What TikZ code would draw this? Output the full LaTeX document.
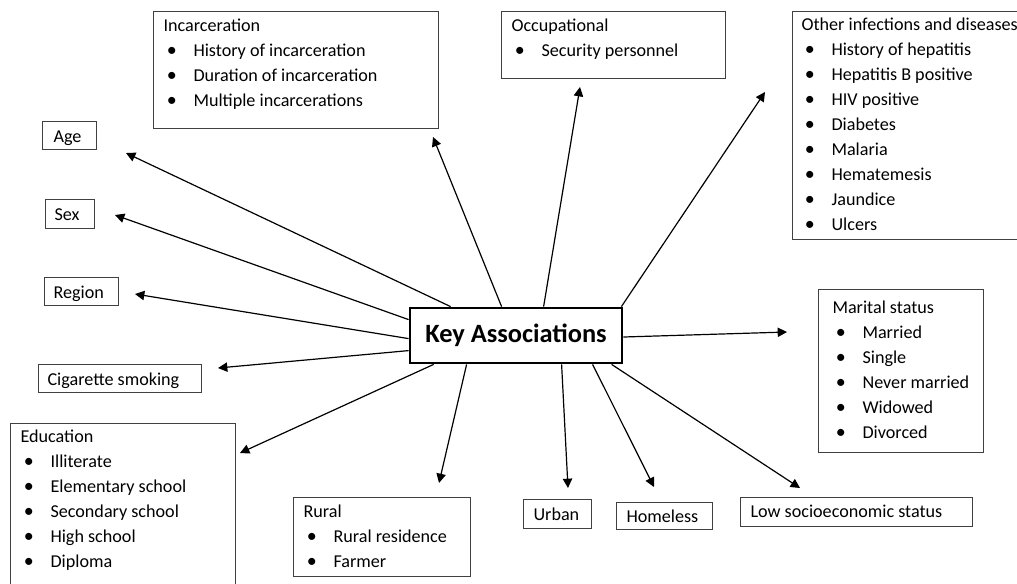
\documentclass[tikz,border=0pt]{standalone}
\usepackage{fontspec}
\setmainfont{Carlito}
\usetikzlibrary{arrows.meta,calc}
\newcommand\cont[5]{\parbox[t][#2][t]{#1}{\fontsize{13.6pt}{18.75pt}\selectfont\raggedright\leftskip=#3\relax\rule{0pt}{#4}#5}}
\newcommand\bi[1]{\\\hspace*{2.5pt}\makebox[20pt][l]{\scalebox{1.1}{\textbullet}}#1}
\tikzset{
  box/.style={draw=black!75, line width=0.8pt, inner sep=0pt, anchor=north west, fill=white},
  keybox/.style={draw=black, line width=2.1pt, minimum width=159pt, minimum height=41.25pt, inner sep=0pt, font=\fontsize{19.8pt}{22pt}\selectfont\bfseries},
  arr/.style={-{Triangle[length=7pt,width=7pt]}, line width=0.9pt}
}
\begin{document}
\begin{tikzpicture}[x=0.75pt,y=-0.75pt]
\useasboundingbox[fill=white] (0,0) rectangle (1017,583);
% boxes
\node[box] (inc) at (153,11) {\cont{213.75pt}{87.75pt}{7.5pt}{15pt}{Incarceration\bi{History of incarceration}\bi{Duration of incarceration}\bi{Multiple incarcerations}}};
\node[box] (occ) at (501,11) {\cont{168pt}{50.25pt}{7.5pt}{15pt}{Occupational\bi{Security personnel}}};
\node[box] (oth) at (792,11) {\cont{180pt}{171pt}{6.75pt}{14.5pt}{Other infections and diseases\bi{History of hepatitis}\bi{Hepatitis B positive}\bi{HIV positive}\bi{Diabetes}\bi{Malaria}\bi{Hematemesis}\bi{Jaundice}\bi{Ulcers}}};
\node[box] (age) at (42,121) {\cont{40.5pt}{21pt}{8.25pt}{15.5pt}{Age}};
\node[box] (sex) at (45,199) {\cont{36.75pt}{21.75pt}{6.75pt}{15.5pt}{Sex}};
\node[box] (reg) at (44,277) {\cont{55.5pt}{21pt}{6.75pt}{15.5pt}{Region}};
\node[box] (cig) at (38,364) {\cont{122.25pt}{21pt}{6.75pt}{15.5pt}{Cigarette smoking}};
\node[box] (edu) at (10,423) {\cont{168.75pt}{127.5pt}{7.5pt}{14.5pt}{Education\bi{Illiterate}\bi{Elementary school}\bi{Secondary school}\bi{High school}\bi{Diploma}}};
\node[box] (rur) at (293,497) {\cont{132.75pt}{59.25pt}{7.5pt}{15pt}{Rural\bi{Rural residence}\bi{Farmer}}};
\node[box] (mar) at (818,289) {\cont{123.75pt}{122.25pt}{10.5pt}{18pt}{Marital status\bi{Married}\bi{Single}\bi{Never married}\bi{Widowed}\bi{Divorced}}};
\node[box] (urb) at (523,499) {\cont{51pt}{21.75pt}{7.5pt}{15.5pt}{Urban}};
\node[box] (hom) at (616,502) {\cont{72pt}{20.25pt}{7.5pt}{15pt}{Homeless}};
\node[box] (ses) at (740,497) {\cont{174pt}{21.75pt}{7.5pt}{15pt}{Low socioeconomic status}};
% centre
\node[keybox] (key) at (516,335.5) {Key Associations};
% tips
\coordinate (tAge) at (126,153);
\coordinate (tSex) at (115,215);
\coordinate (tReg) at (135,294);
\coordinate (tCig) at (218,368);
\coordinate (tEdu) at (240,453);
\coordinate (tRur) at (439,483);
\coordinate (tInc) at (433,137);
\coordinate (tOcc) at (580,87);
\coordinate (tOth) at (765,92);
\coordinate (tMar) at (787,332);
\coordinate (tUrb) at (568,488);
\coordinate (tHom) at (654,487);
\coordinate (tSes) at (800,488);
% arrows
\draw[arr] ($(key.north west)+(42,0)$) -- (tAge);
\draw[arr] ($(key.north west)+(0,13)$) -- (tSex);
\draw[arr] ($(key.north west)+(0,32)$) -- (tReg);
\draw[arr] ($(key.north west)+(0,44)$) -- (tCig);
\draw[arr] ($(key.south west)+(25,0)$) -- (tEdu);
\draw[arr] ($(key.south west)+(58,0)$) -- (tRur);
\draw[arr] ($(key.north west)+(93,0)$) -- (tInc);
\draw[arr] ($(key.north west)+(135,0)$) -- (tOcc);
\draw[arr] ($(key.north east)+(-2,0)$) -- (tOth);
\draw[arr] ($(key.east)+(0,1.5)$) -- (tMar);
\draw[arr] ($(key.south west)+(153,0)$) -- (tUrb);
\draw[arr] ($(key.south west)+(184,0)$) -- (tHom);
\draw[arr] ($(key.south west)+(203,0)$) -- (tSes);
\end{tikzpicture}
\end{document}
